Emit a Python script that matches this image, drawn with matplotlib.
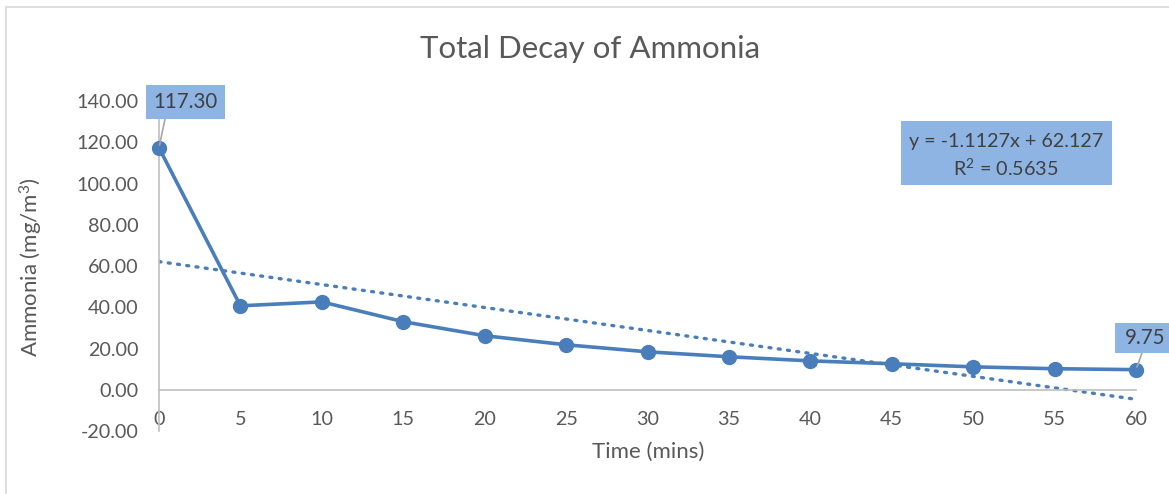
import matplotlib
matplotlib.use("Agg")
import matplotlib.pyplot as plt
from matplotlib.patches import Rectangle
import numpy as np

time_mins = [0, 5, 10, 15, 20, 25, 30, 35, 40, 45, 50, 55, 60]
ammonia = [117.30, 40.7, 42.6, 33.0, 26.2, 21.8, 18.4, 16.0, 14.0, 12.6, 11.1, 10.2, 9.75]
trend_slope = -1.1127
trend_intercept = 62.127
r_squared = 0.5635
y_ticks = [-20, 0, 20, 40, 60, 80, 100, 120, 140]
x_ticks = [0, 5, 10, 15, 20, 25, 30, 35, 40, 45, 50, 55, 60]

FONT = "Lato"
TXT = "#595959"
BLUE = "#4A7EBB"
BOX = "#8EB4E3"
W, H = 1169, 494

plt.rcParams["mathtext.fontset"] = "custom"
plt.rcParams["mathtext.rm"] = FONT
plt.rcParams["mathtext.it"] = FONT

fig = plt.figure(figsize=(W / 100, H / 100), dpi=100)
fig.patch.set_facecolor("white")

# outer chart border (only top and left visible)
fig.add_artist(Rectangle((6 / W, -0.1), 1.2, (H - 7) / H + 0.1, transform=fig.transFigure,
                         fill=False, edgecolor="#D9D9D9", linewidth=1.2))

left, right = 159 / W, 1136 / W
bottom, top = 1 - 431 / H, 1 - 101 / H
ax = fig.add_axes([left, bottom, right - left, top - bottom])
ax.set_facecolor("none")
ax.set_xlim(0, 60)
ax.set_ylim(-20, 140)

for s in ["top", "right"]:
    ax.spines[s].set_visible(False)
ax.spines["left"].set_color("#BFBFBF")
ax.spines["left"].set_linewidth(1.2)
ax.spines["bottom"].set_position(("data", 0))
ax.spines["bottom"].set_color("#BFBFBF")
ax.spines["bottom"].set_linewidth(1.2)

ax.set_yticks(y_ticks)
ax.set_yticklabels([f"{v:.2f}" for v in y_ticks])
ax.set_xticks(x_ticks)
ax.set_xticklabels([str(v) for v in x_ticks])
ax.tick_params(axis="both", length=0, labelsize=14.2, labelcolor=TXT)
ax.tick_params(axis="y", pad=15)
ax.tick_params(axis="x", pad=15)
for lab in ax.get_xticklabels() + ax.get_yticklabels():
    lab.set_fontfamily(FONT)

# trendline
tx = np.array([time_mins[0], time_mins[-1]], dtype=float)
ax.plot(tx, trend_slope * tx + trend_intercept, linestyle=(0, (0.6, 2.2)),
        dash_capstyle="round", color=BLUE, linewidth=2.4, zorder=2)

# data series
ax.plot(time_mins, ammonia, color=BLUE, linewidth=2.6, marker="o",
        markersize=10, zorder=3, clip_on=False)

# data label boxes (figure pixel coords) + text + leader lines
def data_label(text, idx, box_px, leader_px):
    x0, y0, x1, y1 = box_px
    fig.add_artist(Rectangle((x0 / W, 1 - y1 / H), (x1 - x0) / W, (y1 - y0) / H,
                             transform=fig.transFigure, facecolor=BOX,
                             edgecolor="none", zorder=5))
    fig.text((x0 + x1) / 2 / W, 1 - (y0 + y1) / 2 / H, text, ha="center",
             va="center", fontsize=14.8, color="#404040", family=FONT, zorder=6)
    ax.annotate("", xy=(time_mins[idx], ammonia[idx]),
                xytext=(leader_px[0] / W, 1 - leader_px[1] / H),
                textcoords="figure fraction", annotation_clip=False,
                arrowprops=dict(arrowstyle="-", color="#A6A6A6", linewidth=1.2,
                                shrinkA=0, shrinkB=2), zorder=4)

data_label(f"{ammonia[0]:.2f}", 0, (146, 85, 225, 119), (165, 119))
data_label(f"{ammonia[-1]:.2f}", len(ammonia) - 1, (1115, 323, 1175, 353), (1142, 353))

# equation box
fig.add_artist(Rectangle((901 / W, 1 - 185 / H), 211 / W, 64 / H,
                         transform=fig.transFigure, facecolor=BOX, edgecolor="none", zorder=4))
fig.text(1006 / W, 1 - 142 / H, f"y = {trend_slope}x + {trend_intercept}",
         ha="center", va="center", fontsize=14.2, color="#404040", family=FONT, zorder=5)
fig.text(1006 / W, 1 - 168 / H, f"R$^2$ = {r_squared}",
         ha="center", va="center", fontsize=14.2, color="#404040", family=FONT, zorder=5)

# titles
fig.text(590 / W, 1 - 49 / H, "Total Decay of Ammonia", ha="center", va="center",
         fontsize=22.5, color=TXT, family=FONT)
fig.text(648 / W, 1 - 452 / H, "Time (mins)", ha="center", va="center",
         fontsize=16, color=TXT, family=FONT)
fig.text(31 / W, 1 - 267 / H, "Ammonia (mg/m$^3$)", ha="center", va="center",
         rotation=90, fontsize=16, color=TXT, family=FONT)

fig.savefig("out.png", dpi=100, facecolor="white")
